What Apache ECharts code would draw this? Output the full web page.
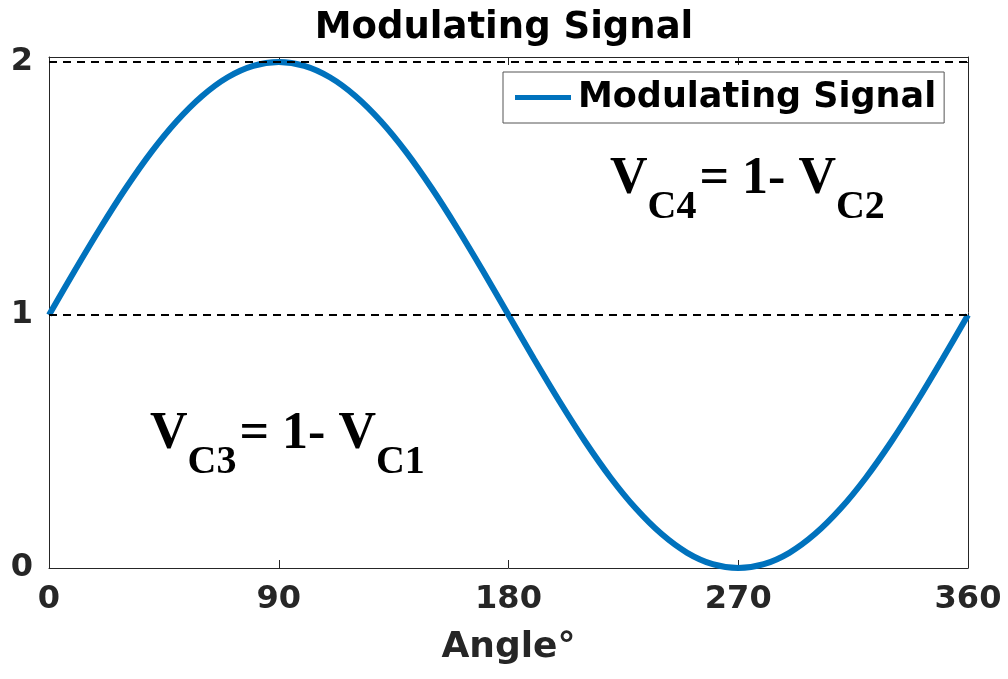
<!DOCTYPE html>
<html>
<head>
<meta charset="utf-8">
<script src="https://cdn.jsdelivr.net/npm/echarts@6/dist/echarts.min.js"></script>
<style>
  html, body { margin: 0; padding: 0; background: #fff; }
  #chart { width: 1008px; height: 679px; }
</style>
</head>
<body>
<div id="chart"></div>
<script>
// angle in degrees, values every 10°
let angles = [0, 10, 20, 30, 40, 50, 60, 70, 80, 90, 100, 110, 120, 130, 140, 150, 160, 170, 180,
  190, 200, 210, 220, 230, 240, 250, 260, 270, 280, 290, 300, 310, 320, 330, 340, 350, 360];
let signal = [1.000, 1.174, 1.342, 1.500, 1.643, 1.766, 1.866, 1.940, 1.985, 2.000, 1.985, 1.940, 1.866,
  1.766, 1.643, 1.500, 1.342, 1.174, 1.000, 0.826, 0.658, 0.500, 0.357, 0.234, 0.134, 0.060, 0.015,
  0.000, 0.015, 0.060, 0.134, 0.234, 0.357, 0.500, 0.658, 0.826, 1.000];
let refLevels = [1, 2];

let chartDom = document.getElementById('chart');
let chart = echarts.init(chartDom);
let option;

let axisGray = '#262626';
let font = 'DejaVu Sans';

// rich text styles for the V_Cx annotations (subscripts pushed down)
let eqRich = {
  v: { fontFamily: 'Liberation Serif', fontWeight: 'bold', fontSize: 52, lineHeight: 52, verticalAlign: 'top', fill: '#000' },
  s: { fontFamily: 'Liberation Serif', fontWeight: 'bold', fontSize: 40, lineHeight: 40, verticalAlign: 'top', padding: [34, 0, 0, 0], fill: '#000' },
  g: { fontFamily: 'Liberation Serif', fontWeight: 'bold', fontSize: 52, lineHeight: 52, verticalAlign: 'top', fill: '#000', padding: [0, 0, 0, 3] }
};

option = {
  backgroundColor: '#fff',
  animation: false,
  title: {
    text: 'Modulating Signal',
    left: 'center',
    top: 5,
    textStyle: { fontFamily: font, fontWeight: 'bold', fontSize: 37, color: '#000' }
  },
  legend: {
    data: ['Modulating Signal'],
    left: 503,
    top: 72,
    orient: 'vertical',
    backgroundColor: '#fff',
    borderColor: '#555',
    borderWidth: 1,
    padding: [8, 8, 8, 12],
    icon: 'rect',
    itemWidth: 56,
    itemHeight: 5,
    itemGap: 0,
    textStyle: { fontFamily: font, fontWeight: 'bold', fontSize: 35, color: '#000', padding: [0, 0, 0, 2] }
  },
  grid: { left: 49, right: 40, top: 57, bottom: 111 },
  xAxis: [
    {
      type: 'value',
      min: 0,
      max: 360,
      interval: 90,
      name: 'Angle°',
      nameLocation: 'middle',
      nameGap: 62,
      nameTextStyle: { fontFamily: font, fontWeight: 'bold', fontSize: 36, color: axisGray },
      axisLine: { show: true, onZero: false, lineStyle: { color: axisGray, width: 1 } },
      axisTick: { show: true, inside: true, length: 8, lineStyle: { color: axisGray } },
      axisLabel: { margin: 16, fontFamily: font, fontWeight: 'bold', fontSize: 32, color: axisGray },
      splitLine: { show: false }
    },
    {
      type: 'value',
      position: 'top',
      min: 0,
      max: 360,
      interval: 90,
      axisLine: { show: true, onZero: false, lineStyle: { color: axisGray, width: 1 } },
      axisTick: { show: true, inside: true, length: 8, lineStyle: { color: axisGray } },
      axisLabel: { show: false },
      splitLine: { show: false }
    }
  ],
  yAxis: [
    {
      type: 'value',
      min: 0,
      max: 2.02,
      interval: 1,
      axisLine: { show: true, onZero: false, lineStyle: { color: axisGray, width: 1 } },
      axisTick: { show: true, inside: true, length: 8, lineStyle: { color: axisGray } },
      axisLabel: {
        margin: 16,
        fontFamily: font,
        fontWeight: 'bold',
        fontSize: 32,
        color: axisGray,
        formatter: function (v) { return Number.isInteger(v) ? String(v) : ''; }
      },
      splitLine: { show: false }
    },
    {
      type: 'value',
      position: 'right',
      min: 0,
      max: 2.02,
      interval: 1,
      axisLine: { show: true, onZero: false, lineStyle: { color: axisGray, width: 1 } },
      axisTick: { show: true, inside: true, length: 8, lineStyle: { color: axisGray } },
      axisLabel: { show: false },
      splitLine: { show: false }
    }
  ],
  graphic: [
    {
      type: 'text',
      left: 610,
      top: 154,
      z: 100,
      style: { text: '{v|V}{s|C4}{g|= 1- V}{s|C2}', rich: eqRich }
    },
    {
      type: 'text',
      left: 150,
      top: 409,
      z: 100,
      style: { text: '{v|V}{s|C3}{g|= 1- V}{s|C1}', rich: eqRich }
    }
  ],
  series: [
    {
      name: 'Modulating Signal',
      type: 'line',
      data: angles.map(function (a, i) { return [a, signal[i]]; }),
      smooth: 0.3,
      showSymbol: false,
      clip: false,
      color: '#0072BD',
      lineStyle: { width: 6, color: '#0072BD' },
      markLine: {
        silent: true,
        symbol: 'none',
        label: { show: false },
        lineStyle: { color: '#000', type: [8, 6], width: 2 },
        data: refLevels.map(function (v) { return { yAxis: v }; })
      }
    }
  ]
};

option && chart.setOption(option);
</script>
</body>
</html>
